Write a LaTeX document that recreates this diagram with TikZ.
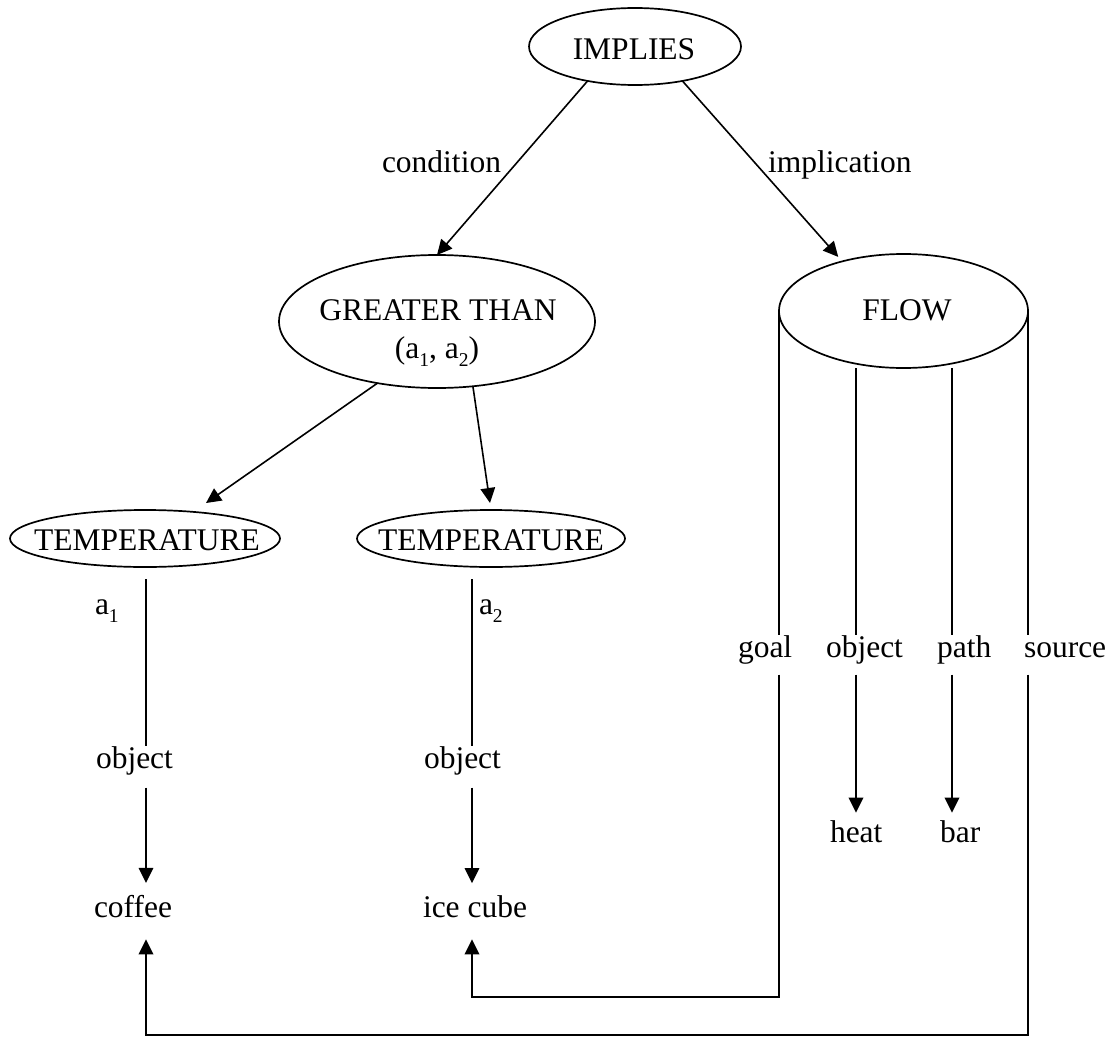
\documentclass[tikz,border=0pt]{standalone}
\usepackage{fontspec}
\setmainfont{Liberation Serif}
\usetikzlibrary{arrows.meta,shapes.geometric}
% lowered index digit, as in a_1
\newcommand\lowidx[1]{\raisebox{-8pt}{\fontsize{19.5}{20}\selectfont #1}}
\begin{document}
\begin{tikzpicture}[x=1pt,y=-1pt,
  every node/.style={font=\fontsize{31.5}{36}\selectfont, inner sep=0pt, outer sep=0pt},
  oval/.style={draw, ellipse, line width=1.7pt, inner sep=0pt},
  lbl/.style={anchor=base west},
  ctr/.style={anchor=base},
  rail/.style={line width=2pt},
  link/.style={line width=1.6pt, -{Triangle[length=15pt,width=14.5pt]}},
  railtip/.style={line width=2pt, -{Triangle[length=15pt,width=14.5pt]}}]
\useasboundingbox (0,0) rectangle (1110,1038);

% concept ellipses
\node[oval, minimum width=212pt, minimum height=77pt]  (imp)  at (635,46.5)  {};
\node[oval, minimum width=316pt, minimum height=133pt] (gt)   at (437,321.5) {};
\node[oval, minimum width=249pt, minimum height=114pt] (flow) at (903.5,311) {};
\node[oval, minimum width=270pt, minimum height=57pt]  (tl)   at (145,538.5) {};
\node[oval, minimum width=268pt, minimum height=57pt]  (tr)   at (491,538.5) {};

% texts inside the ellipses
\node[ctr] (impT)  at (634,60)  {IMPLIES};
\node[ctr] (gtT)   at (438,320) {GREATER THAN};
\node[ctr] (gtA)   at (437,358) {(a\lowidx{1}, a\lowidx{2})};
\node[ctr] (flowT) at (907,320) {FLOW};
\node[ctr] (tlT)   at (147,550) {TEMPERATURE};
\node[ctr] (trT)   at (491,550) {TEMPERATURE};

% role and filler texts
\node[lbl] (cond)   at (382,172) {condition};
\node[lbl] (impl)   at (768,172) {implication};
\node[lbl] (aone)   at (95,614)  {a\lowidx{1}};
\node[lbl] (atwo)   at (479,614) {a\lowidx{2}};
\node[lbl] (objL)   at (96,768)  {object};
\node[lbl] (objR)   at (424,768) {object};
\node[lbl] (coffee) at (94,917)  {coffee};
\node[lbl] (ice)    at (423,917) {ice cube};
\node[lbl] (goal)   at (738,657) {goal};
\node[lbl] (objF)   at (826,657) {object};
\node[lbl] (path)   at (937,657) {path};
\node[lbl] (source) at (1024,657) {source};
\node[lbl] (heat)   at (830,842) {heat};
\node[lbl] (bar)    at (940,842) {bar};

% columns of the vertical connectors
\coordinate (colL) at ([xshift=1pt]tl.south);
\coordinate (colR) at ([xshift=-19pt]tr.south);
\coordinate (colO) at ([xshift=-47.5pt]flow.south);
\coordinate (colP) at ([xshift=48.5pt]flow.south);
\coordinate (lowrail) at (0,1035);
\coordinate (midrail) at (0,997);

% IMPLIES to its two arguments
\draw[link] (imp.-144) -- (gt.north);
\draw[link, shorten >=6pt] (imp.-36) -- (flow.141);

% GREATER THAN to the two temperatures
\draw[link] (gt.-134) -- ([shift={(61,-7)}]tl.north);
\draw[link] (gt.-61) -- ([shift={(-1,-7)}]tr.north);

% temperature chains
\draw[rail] (colL) ++(0,12) -- (colL |- objL.north);
\draw[link, shorten >=12pt] (colL |- objL.south) ++(0,13) -- (colL |- coffee.north);
\draw[rail] (colR) ++(0,12) -- (colR |- objR.north);
\draw[link, shorten >=12pt] (colR |- objR.south) ++(0,13) -- (colR |- ice.north);

% FLOW roles
\draw[rail] (flow.west) -- (flow.west |- objF.north);
\draw[rail] (colO) -- (colO |- objF.north);
\draw[rail] (colP) -- (colP |- objF.north);
\draw[rail] (flow.east) -- (flow.east |- objF.north);
\draw[railtip, shorten >=7.5pt] (colO |- objF.south) ++(0,11) -- (colO |- heat.north);
\draw[railtip, shorten >=7.5pt] (colP |- objF.south) ++(0,11) -- (colP |- bar.north);
\draw[railtip, shorten >=22pt] (flow.west |- objF.south) ++(0,11) |- (colR |- midrail) -- (colR |- ice.south);
\draw[railtip, shorten >=22pt] (flow.east |- objF.south) ++(0,11) |- (colL |- lowrail) -- (colL |- coffee.south);
\end{tikzpicture}
\end{document}
